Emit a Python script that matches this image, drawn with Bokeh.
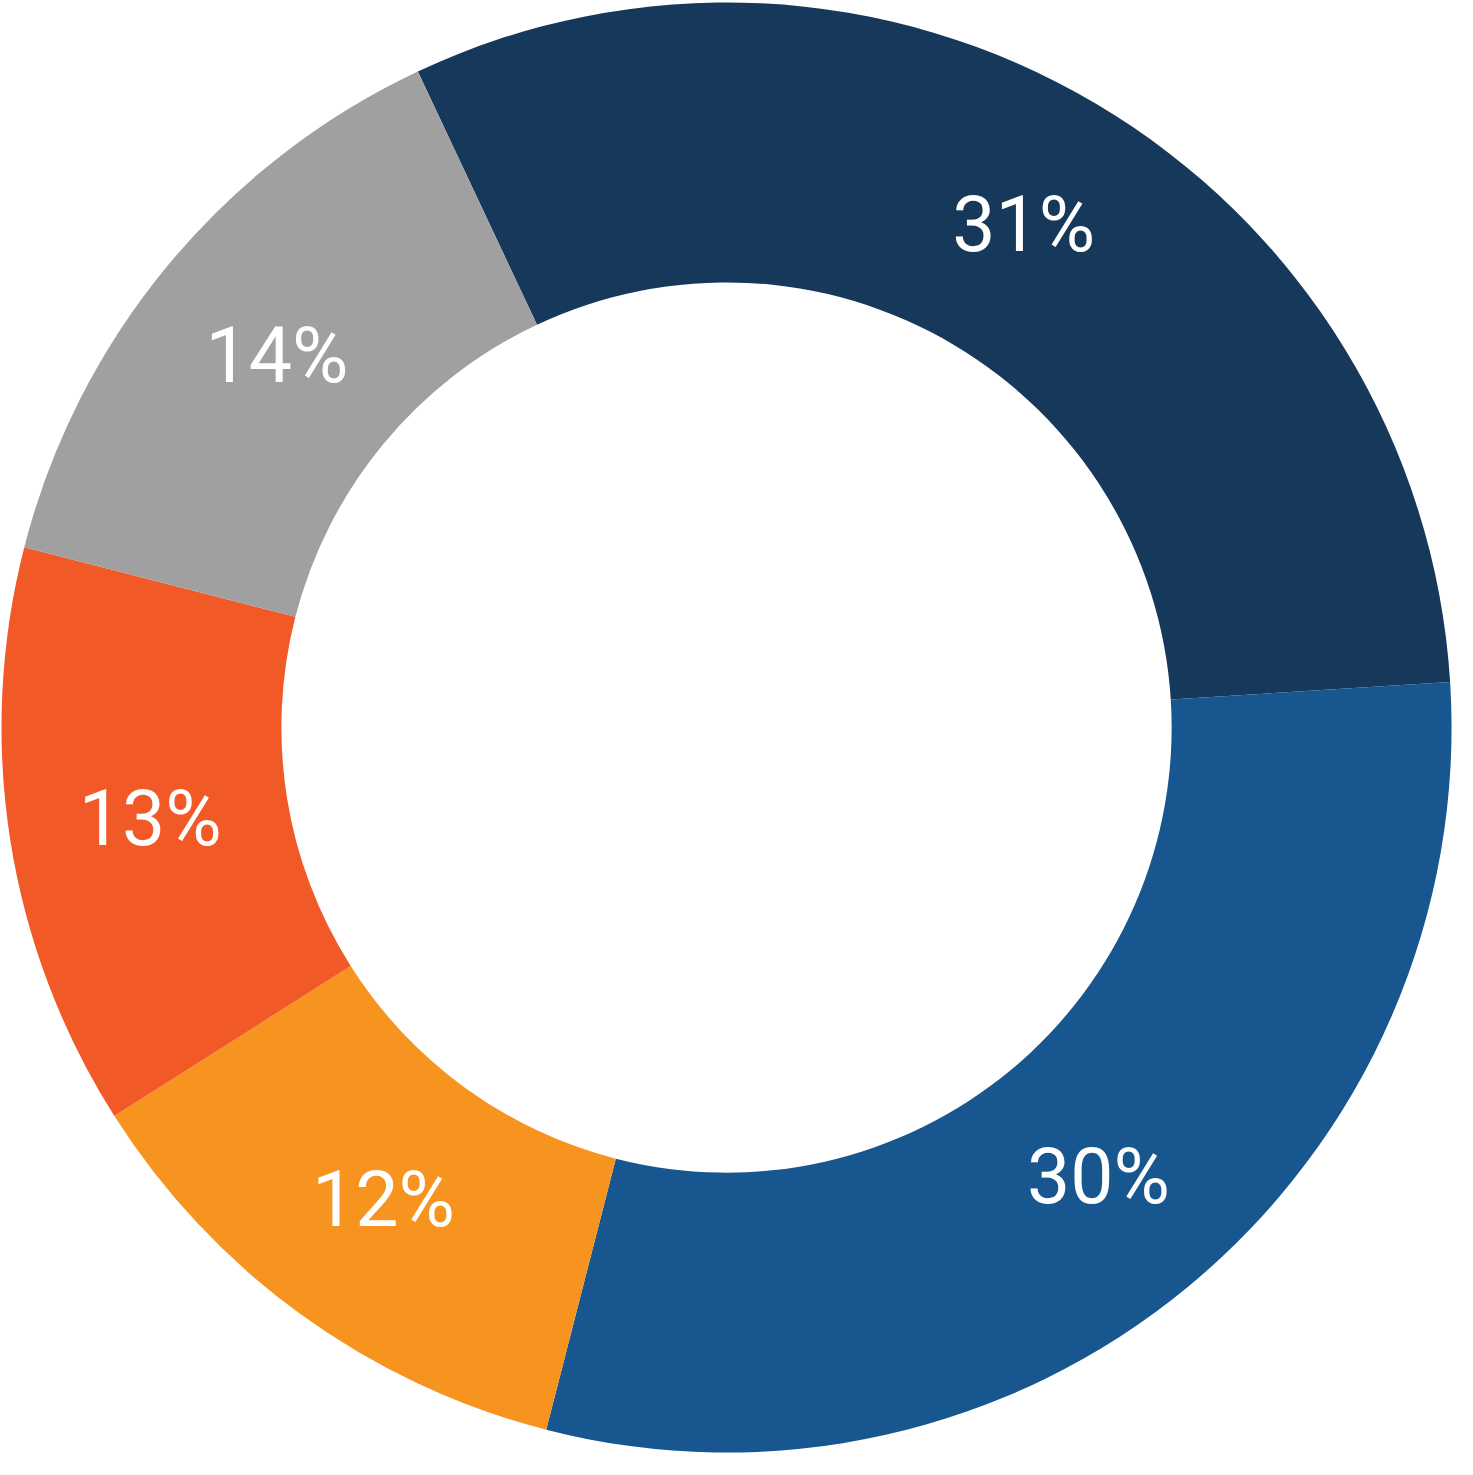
import math
from bokeh.plotting import figure
from bokeh.models import Range1d, ColumnDataSource
from bokeh.core.properties import value
from bokeh.embed import file_html
from bokeh.resources import INLINE

# Data (clockwise from the top-left boundary)
labels = ["31%", "30%", "12%", "13%", "14%"]
shares = [31, 30, 12, 13, 14]
colors = ["#16395B", "#17568F", "#F7941F", "#F15A27", "#A0A0A0"]
start_deg = 115.2  # angle of first boundary (counter-clockwise from +x)

W, H = 1457, 1459
# coordinate frame in reference-picture pixels (1473 x 1475), donut centre at (734, 735)
REF_W, REF_H, CX, CY = 1473, 1475, 734, 735
R_OUT, R_IN, R_LAB = 733, 450, 590

total = float(sum(shares))
starts, ends, lx, ly = [], [], [], []
a = math.radians(start_deg)
for s in shares:
    sweep = 2 * math.pi * s / total
    b = a - sweep
    starts.append(b)
    ends.append(a)
    mid = (a + b) / 2
    lx.append(R_LAB * math.cos(mid))
    ly.append(R_LAB * math.sin(mid))
    a = b

src = ColumnDataSource(dict(start=starts, end=ends, color=colors,
                            x=[0] * len(shares), y=[0] * len(shares)))
lab = ColumnDataSource(dict(x=lx, y=ly, text=labels))

p = figure(width=W, height=H, output_backend="svg", toolbar_location=None,
           x_range=Range1d(-CX, REF_W - CX), y_range=Range1d(-(REF_H - CY), CY),
           min_border=0)
p.axis.visible = False
p.grid.visible = False
p.outline_line_color = None
p.background_fill_color = "white"
p.border_fill_color = "white"

p.annular_wedge(x="x", y="y", inner_radius=R_IN, outer_radius=R_OUT,
                start_angle="start", end_angle="end", direction="anticlock",
                fill_color="color", line_color=None, source=src)

p.text(x="x", y="y", text="text", source=lab, text_color="white",
       text_font=value("Roboto"), text_font_size="77px",
       text_align="center", text_baseline="middle")

open("out.html", "w").write(file_html(p, INLINE))
